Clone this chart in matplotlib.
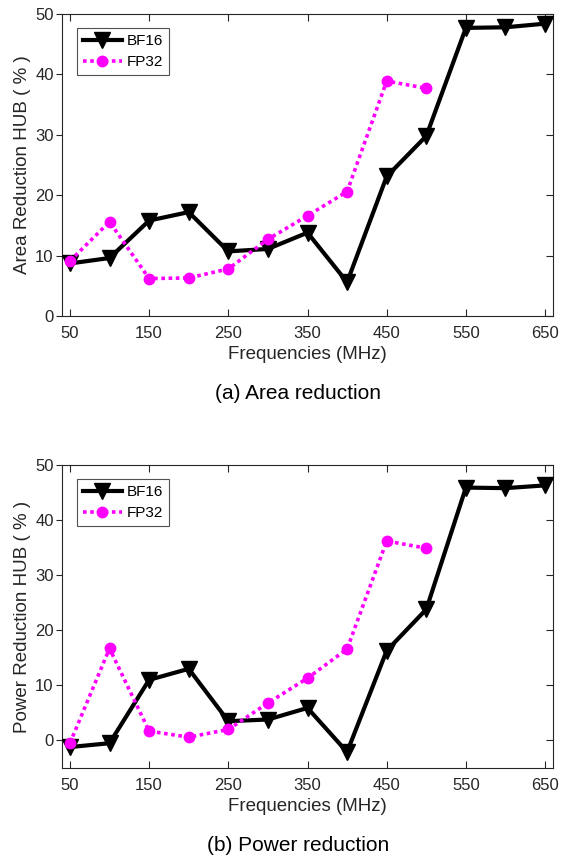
import numpy as np
import matplotlib
matplotlib.use("Agg")
import matplotlib.pyplot as plt

plt.rcParams["font.family"] = ["Liberation Sans", "DejaVu Sans"]

freqs = [50, 100, 150, 200, 250, 300, 350, 400, 450, 500, 550, 600, 650]
freqs_fp32 = freqs[:10]

area_bf16 = [8.7, 9.6, 15.8, 17.2, 10.7, 11.1, 13.8, 5.6, 23.1, 29.8, 47.7, 47.8, 48.4]
area_fp32 = [9.1, 15.6, 6.2, 6.3, 7.8, 12.7, 16.6, 20.6, 38.9, 37.7]

power_bf16 = [-1.2, -0.5, 11.0, 13.0, 3.5, 3.8, 5.9, -2.1, 16.3, 23.8, 45.9, 45.8, 46.3]
power_fp32 = [-0.5, 16.7, 1.7, 0.6, 2.0, 6.8, 11.3, 16.6, 36.2, 34.9]

xticks = [50, 150, 250, 350, 450, 550, 650]

txt = "#262626"
W, H = 561, 858
fig = plt.figure(figsize=(W / 100, H / 100), dpi=100)


def make_axes(top, bottom):
    return fig.add_axes([62 / W, 1 - bottom / H, (553 - 62) / W, (bottom - top) / H])


panels = [
    (make_axes(14, 316), area_bf16, area_fp32, "Area Reduction HUB ( % )",
     (0, 50), "(a) Area reduction"),
    (make_axes(465, 768), power_bf16, power_fp32, "Power Reduction HUB ( % )",
     (-5, 50), "(b) Power reduction"),
]

for ax, bf, fp, ylab, ylim, title in panels:
    ax.plot(freqs, bf, color="black", lw=3, marker="v", ms=11,
            label="BF16", zorder=3)
    ax.plot(freqs_fp32, fp, color="#FF00FF", lw=2.6, ls=(0, (1, 1)),
            marker="o", ms=7.5, label="FP32", zorder=4)
    ax.set_xlim(40, 660)
    ax.set_ylim(*ylim)
    ax.set_xticks(xticks)
    ax.set_yticks(np.arange(0, 51, 10))
    ax.tick_params(axis="x", direction="in", top=True, length=5, pad=7)
    ax.tick_params(axis="y", which="both", left=True, right=False,
                   direction="out", length=4, pad=2)
    ax.tick_params(width=0.8, labelsize=12, labelcolor=txt, color=txt)
    # right-side inward ticks
    sec = ax.secondary_yaxis("right")
    sec.set_yticks(np.arange(0, 51, 10))
    sec.tick_params(direction="in", length=5, width=0.8, color=txt,
                    labelright=False)
    sec.spines["right"].set_visible(False)
    for sp in ax.spines.values():
        sp.set_color(txt)
        sp.set_linewidth(0.8)
    ax.set_ylabel(ylab, fontsize=13.5, color=txt, labelpad=3)
    ax.set_xlabel("Frequencies (MHz)", fontsize=13.5, color=txt, labelpad=4)
    ax.text(0.48, -0.256, title, transform=ax.transAxes, ha="center",
            va="center", fontsize=15, color="black")
    leg = ax.legend(loc="upper left", bbox_to_anchor=(0.031, 0.954),
                    fontsize=11, frameon=True, fancybox=False,
                    handlelength=2.5, borderpad=0.4, labelspacing=0.45,
                    handletextpad=0.35, borderaxespad=0)
    leg.get_frame().set_edgecolor(txt)
    leg.get_frame().set_linewidth(0.8)

fig.savefig("out.png", dpi=100)
